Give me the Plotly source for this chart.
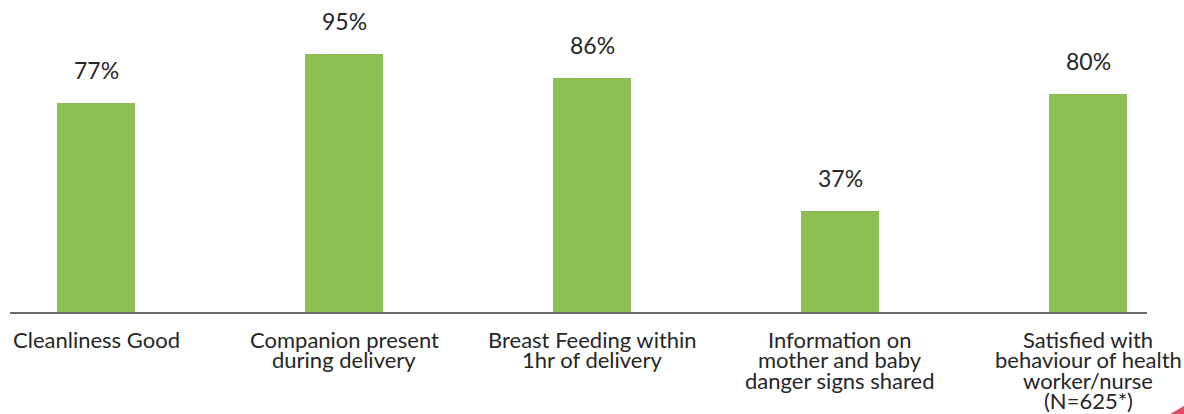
import plotly.graph_objects as go

# ---- data ----
categories = [
    "Cleanliness Good",
    "Companion present<br>during delivery",
    "Breast Feeding within<br>1hr of delivery",
    "Information on<br>mother and baby<br>danger signs shared",
    "Satisfied with<br>behaviour of health<br>worker/nurse<br>(N=625*)",
]
values = [77, 95, 86, 37, 80]
value_labels = ["77%", "95%", "86%", "37%", "80%"]

# ---- styles ----
W, H = 1184, 414
BAR_COLOR = "#8CBE54"
TEXT_COLOR = "#262626"
AXIS_COLOR = "#6a6a6a"
FONT = "Lato"

x_idx = list(range(len(categories)))

fig = go.Figure()
fig.add_trace(go.Bar(
    x=x_idx, y=values, width=0.315,
    marker=dict(color=BAR_COLOR, line=dict(width=0)),
    hoverinfo="skip",
))

annotations = []
# value labels above bars
for i, (v, t) in enumerate(zip(values, value_labels)):
    annotations.append(dict(
        x=i, y=v, xref="x", yref="y", text=t, showarrow=False,
        yanchor="middle", xanchor="center", yshift=33,
        font=dict(family=FONT, size=23, color=TEXT_COLOR),
    ))

# category labels, one annotation per line for the tight line spacing of the original
axis_bottom = 102 / H
line_pitch = 20.6
for i, cat in enumerate(categories):
    for k, line in enumerate(cat.split("<br>")):
        annotations.append(dict(
            x=i, y=axis_bottom, xref="x", yref="paper", text=line,
            showarrow=False, yanchor="middle", xanchor="center",
            yshift=-(27 + k * line_pitch),
            font=dict(family=FONT, size=22, color=TEXT_COLOR),
        ))

# small decorative corner triangle
shapes = [dict(
    type="path", xref="paper", yref="paper",
    path=f"M {1170/W},0 L 1,0 L 1,{8/H} Z",
    fillcolor="#D94F62", line=dict(width=0),
)]

fig.update_layout(
    width=W, height=H,
    margin=dict(l=0, r=0, t=0, b=0),
    paper_bgcolor="white", plot_bgcolor="white",
    showlegend=False,
    annotations=annotations,
    shapes=shapes,
    bargap=0,
    xaxis=dict(
        domain=[10 / W, 1147 / W],
        range=[-86 / 248, (1147 - 96) / 248],
        showgrid=False, zeroline=False, showticklabels=False, ticks="",
        showline=True, linecolor=AXIS_COLOR, linewidth=1.5,
        fixedrange=True,
    ),
    yaxis=dict(
        domain=[axis_bottom, 1],
        range=[0, 312 / 2.72],
        showgrid=False, zeroline=False, showticklabels=False, ticks="",
        showline=False, fixedrange=True,
    ),
)

fig.write_html("out.html")
